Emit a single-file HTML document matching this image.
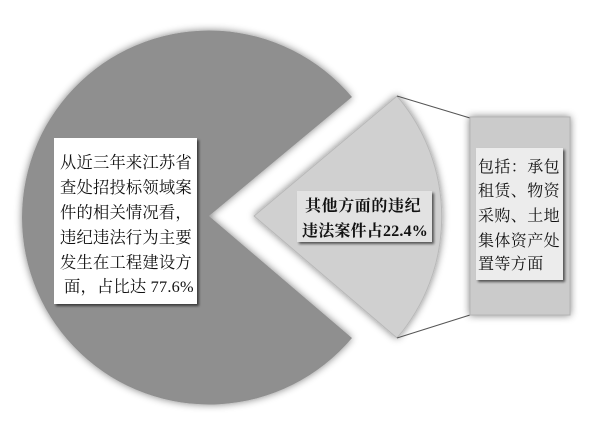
<!DOCTYPE html>
<html><head><meta charset="utf-8"><style>
html,body{margin:0;padding:0;background:#fff;width:600px;height:421px;overflow:hidden}
svg{display:block}
text{font-family:"Liberation Serif","Noto Serif CJK SC","Noto Sans CJK SC",serif;fill:#111}
</style></head><body>
<svg width="600" height="421" viewBox="0 0 600 421" xmlns="http://www.w3.org/2000/svg">
<defs>
<filter id="sh" x="-20%" y="-20%" width="140%" height="140%"><feGaussianBlur in="SourceAlpha" stdDeviation="4"/><feComponentTransfer><feFuncA type="linear" slope="0.5"/></feComponentTransfer><feMerge><feMergeNode/><feMergeNode in="SourceGraphic"/></feMerge></filter>
<filter id="bs" x="-10%" y="-10%" width="130%" height="130%"><feGaussianBlur in="SourceAlpha" stdDeviation="1.2"/><feOffset dx="2" dy="2"/><feComponentTransfer><feFuncA type="linear" slope="0.6"/></feComponentTransfer><feMerge><feMergeNode/><feMergeNode in="SourceGraphic"/></feMerge></filter>
</defs>
<path d="M209,216 L352,97 A187,187 0 1 0 352,338 Z" fill="#8f8f8f" filter="url(#sh)"/>
<path d="M254,216 L397,96 A186,186 0 0 1 397,338 Z" fill="#d0d0d0" stroke="#b8b8b8" stroke-width="1" filter="url(#sh)"/>
<line x1="397" y1="96" x2="470" y2="118" stroke="#555" stroke-width="1"/>
<line x1="397" y1="338" x2="470" y2="315" stroke="#555" stroke-width="1"/>
<rect x="470" y="117" width="100" height="198" fill="#cbcbcb" stroke="#b5b5b5" filter="url(#sh)"/>
<rect x="476" y="148" width="87" height="132" fill="#ececec" filter="url(#bs)"/>
<g font-size="16" letter-spacing="0.4">
<text x="478" y="172">包括：承包</text>
<text x="478" y="196">租赁、物资</text>
<text x="478" y="221">采购、土地</text>
<text x="478" y="246">集体资产处</text>
<text x="478" y="269">置等方面</text>
</g>
<rect x="297" y="191" width="135" height="51" fill="#e2e2e2" filter="url(#bs)"/>
<g font-size="16" font-weight="bold" letter-spacing="0.6">
<text x="305" y="211">其他方面的违纪</text>
<text x="302" y="236" letter-spacing="0.2">违法案件占22.4%</text>
</g>
<rect x="54" y="138" width="143" height="166" fill="#fff" filter="url(#bs)"/>
<g font-size="16.3" letter-spacing="0.2">
<text x="60" y="168">从近三年来江苏省</text>
<text x="60" y="193">查处招投标领域案</text>
<text x="60" y="218">件的相关情况看，</text>
<text x="60" y="243">违纪违法行为主要</text>
<text x="60" y="268">发生在工程建设方</text>
<text x="64" y="292">面，占比达 77.6%</text>
</g>
</svg>
</body></html>
